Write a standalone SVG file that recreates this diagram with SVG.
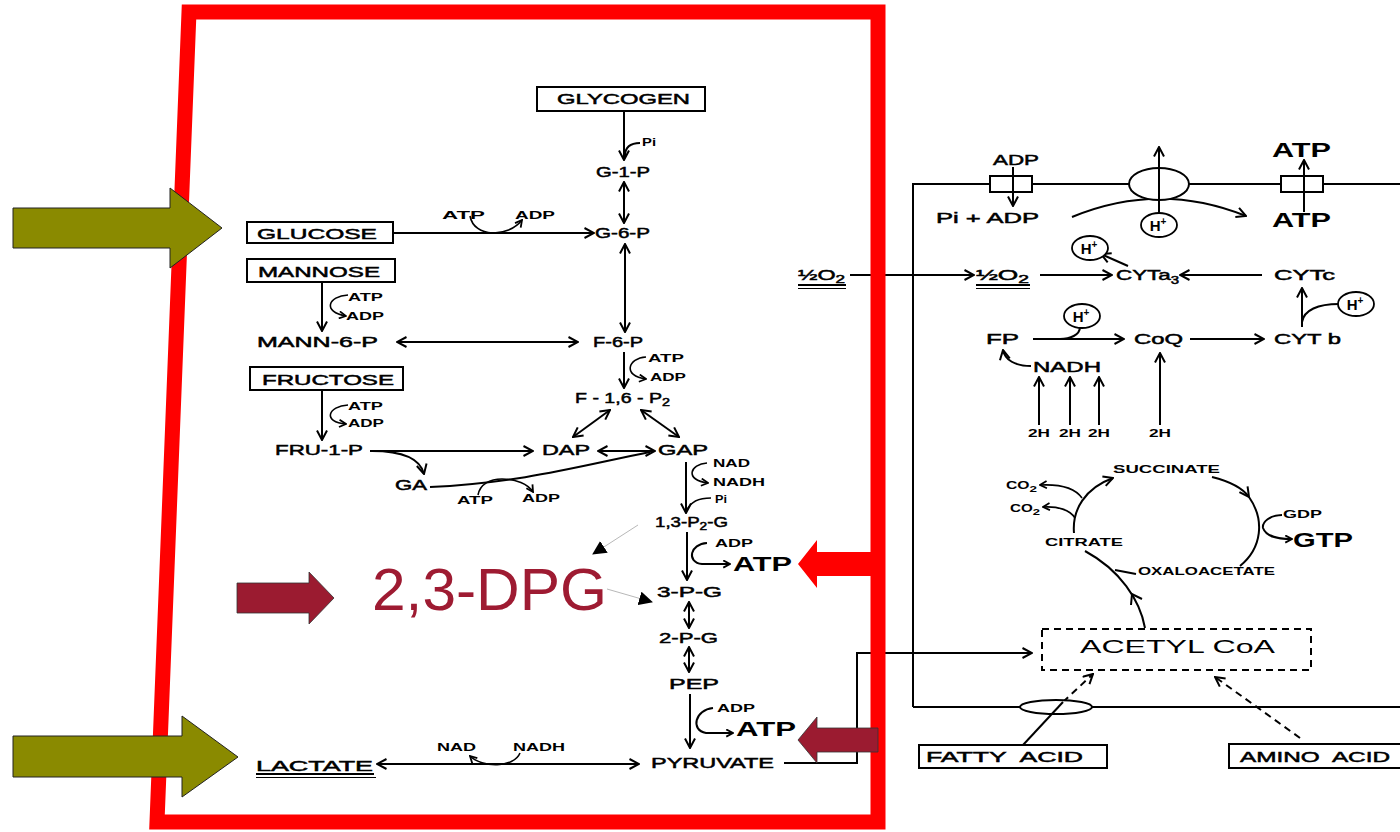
<svg xmlns="http://www.w3.org/2000/svg" width="1400" height="832" viewBox="0 0 1400 832">
<defs>
<style>
text{font-family:"Liberation Sans",Arial,sans-serif;fill:#000}
.m{font-size:15px;stroke:#000;stroke-width:0.5}
.s{font-size:10.5px;font-weight:bold}
.b{font-size:20px;font-weight:bold}
.ln{stroke:#000;stroke-width:2;fill:none}
.thin{stroke:#000;stroke-width:1.6;fill:none}
.bx{fill:#fff;stroke:#000;stroke-width:2}
.h{fill:#fff;stroke:#000;stroke-width:1.8}
.gr{stroke:#b8b8b8;stroke-width:1;fill:none}
.dash{stroke:#000;stroke-width:2;fill:none;stroke-dasharray:7,5}
.olive{fill:#8a8a00;stroke:#222;stroke-width:1}
.dred{fill:#9b1b30;stroke:#333;stroke-width:0.8}
</style>
<marker id="a" viewBox="0 0 12 12" refX="11" refY="6" markerWidth="12" markerHeight="12" markerUnits="userSpaceOnUse" orient="auto-start-reverse"><path d="M1.5,1 L11,6 L1.5,11" fill="none" stroke="#000" stroke-width="2"/></marker>
<marker id="sm" viewBox="0 0 10 10" refX="9" refY="5" markerWidth="9" markerHeight="9" markerUnits="userSpaceOnUse" orient="auto"><path d="M1.5,1 L9,5 L1.5,9" fill="none" stroke="#000" stroke-width="2"/></marker>
<marker id="tri" viewBox="0 0 14 14" refX="13" refY="7" markerWidth="14" markerHeight="14" markerUnits="userSpaceOnUse" orient="auto"><path d="M0,0 L14,7 L0,14 z" fill="#000"/></marker>
</defs>
<rect width="1400" height="832" fill="#fff"/>

<g id="connectors">
<line x1="624" y1="111" x2="624" y2="160" class="ln" marker-end="url(#a)"/>
<path d="M640,143 C630,143 625,148 625,156" class="ln"/>
<line x1="624" y1="182" x2="624" y2="223" class="ln" marker-start="url(#a)" marker-end="url(#a)"/>
<line x1="393" y1="233" x2="594" y2="233" class="ln" marker-end="url(#a)"/>
<path d="M470,216 C474,238 508,238 522,220" class="thin" marker-end="url(#sm)"/>
<line x1="625" y1="244" x2="625" y2="332" class="ln" marker-start="url(#a)" marker-end="url(#a)"/>
<line x1="322" y1="282" x2="322" y2="331" class="ln" marker-end="url(#a)"/>
<path d="M348,295 C328,296 322,312 346,316" class="thin" marker-end="url(#sm)"/>
<line x1="397" y1="342" x2="578" y2="342" class="ln" marker-start="url(#a)" marker-end="url(#a)"/>
<line x1="624" y1="352" x2="624" y2="388" class="ln" marker-end="url(#a)"/>
<path d="M646,357 C628,358 622,376 646,379" class="thin" marker-end="url(#sm)"/>
<line x1="322" y1="390" x2="322" y2="440" class="ln" marker-end="url(#a)"/>
<path d="M348,405 C328,406 322,422 346,424" class="thin" marker-end="url(#sm)"/>
<line x1="610" y1="410" x2="573" y2="437" class="ln" marker-start="url(#a)" marker-end="url(#a)"/>
<line x1="641" y1="410" x2="679" y2="437" class="ln" marker-start="url(#a)" marker-end="url(#a)"/>
<line x1="370" y1="451" x2="533" y2="451" class="ln" marker-end="url(#a)"/>
<path d="M372,451 C400,451 420,458 424,474" class="ln" marker-end="url(#a)"/>
<line x1="598" y1="451" x2="655" y2="451" class="ln" marker-start="url(#a)" marker-end="url(#a)"/>
<path d="M430,487 C520,483 580,466 650,452" class="ln"/>
<path d="M478,495 C480,484 490,479 502,479 C516,479 528,484 533,492" class="thin" marker-end="url(#sm)"/>
<line x1="686" y1="462" x2="686" y2="513" class="ln" marker-end="url(#a)"/>
<path d="M707,463 C690,464 684,480 708,483" class="thin" marker-end="url(#sm)"/>
<path d="M711,498 C698,498 690,503 687,510" class="thin"/>
<line x1="687" y1="532" x2="687" y2="580" class="ln" marker-end="url(#a)"/>
<path d="M707,543 C690,544 686,562 702,564 L730,564" class="ln" marker-end="url(#sm)"/>
<line x1="689" y1="602" x2="689" y2="628" class="ln" marker-start="url(#a)" marker-end="url(#a)"/>
<line x1="689" y1="647" x2="689" y2="672" class="ln" marker-start="url(#a)" marker-end="url(#a)"/>
<line x1="690" y1="694" x2="690" y2="748" class="ln" marker-end="url(#a)"/>
<path d="M713,708 C695,710 690,730 706,733 L733,733" class="ln" marker-end="url(#sm)"/>
<line x1="377" y1="764" x2="639" y2="764" class="ln" marker-start="url(#a)" marker-end="url(#a)"/>
<path d="M520,753 C514,768 482,768 470,756" class="thin" marker-end="url(#sm)"/>
<polyline points="784,763 857,763 857,653 1032,653" class="ln" marker-end="url(#a)"/>
<line x1="638" y1="525" x2="593" y2="554" class="gr" marker-end="url(#tri)"/>
<line x1="607" y1="589" x2="652" y2="602" class="gr" marker-end="url(#tri)"/>

<polyline points="913,707 913,184 1400,184" class="ln"/>
<line x1="913" y1="707" x2="1400" y2="707" class="ln"/>
<path d="M1072,217 Q1159,181 1246,216" class="ln" marker-end="url(#a)"/>
<line x1="850" y1="275" x2="974" y2="275" class="ln" marker-end="url(#a)"/>
<line x1="1040" y1="275" x2="1112" y2="275" class="ln" marker-end="url(#a)"/>
<line x1="1262" y1="275" x2="1180" y2="275" class="ln" marker-end="url(#a)"/>
<line x1="1128" y1="266" x2="1101" y2="254" class="ln" marker-end="url(#a)"/>
<line x1="1302" y1="327" x2="1302" y2="288" class="ln" marker-end="url(#a)"/>
<path d="M1339,304 C1318,304 1304,310 1302,322" class="ln"/>
<line x1="1033" y1="339" x2="1124" y2="339" class="ln" marker-end="url(#a)"/>
<path d="M1080,327 C1080,335 1070,339 1060,339" class="ln"/>
<line x1="1190" y1="339" x2="1264" y2="339" class="ln" marker-end="url(#a)"/>
<path d="M1031,366 C1015,366 1005,360 1003,350" class="ln" marker-end="url(#a)"/>
<line x1="1039" y1="425" x2="1039" y2="377" class="ln" marker-end="url(#a)"/>
<line x1="1070" y1="425" x2="1070" y2="377" class="ln" marker-end="url(#a)"/>
<line x1="1099" y1="425" x2="1099" y2="377" class="ln" marker-end="url(#a)"/>
<line x1="1160" y1="425" x2="1160" y2="353" class="ln" marker-end="url(#a)"/>

<path d="M1074,533 C1072,510 1085,488 1113,478" class="ln" marker-end="url(#a)"/>
<path d="M1082,498 C1075,488 1060,484 1040,485" class="thin" marker-end="url(#sm)"/>
<path d="M1075,518 C1070,510 1058,506 1043,507" class="thin" marker-end="url(#sm)"/>
<path d="M1212,477 C1232,482 1244,490 1249,497" class="ln" marker-end="url(#a)"/>
<path d="M1249,497 C1265,520 1262,548 1240,566" class="ln"/>
<path d="M1282,515 C1270,515 1262,522 1263,528 C1266,536 1275,539 1292,539" class="ln" marker-end="url(#sm)"/>
<line x1="1136" y1="574" x2="1115" y2="570" class="ln"/>
<path d="M1145,628 C1140,600 1120,570 1085,551" class="ln"/>
<path d="M1142,599 L1132,594 L1131,605" class="ln"/>
<line x1="1063" y1="702" x2="1093" y2="674" class="dash" marker-end="url(#a)"/>
<line x1="1300" y1="738" x2="1215" y2="677" class="dash" marker-end="url(#a)"/>
</g>

<g id="glycogen"><rect x="537" y="87" width="168" height="24" class="bx"/><text class="m" x="557" y="104" textLength="133" lengthAdjust="spacingAndGlyphs">GLYCOGEN</text></g>
<g id="pi1"><text class="s" x="642" y="146" textLength="14" lengthAdjust="spacingAndGlyphs">Pi</text></g>
<g id="g1p"><text class="m" x="596" y="177" textLength="54" lengthAdjust="spacingAndGlyphs">G-1-P</text></g>
<g id="g6p"><text class="m" x="595" y="238" textLength="55" lengthAdjust="spacingAndGlyphs">G-6-P</text></g>
<g id="glucose"><rect x="247" y="222" width="146" height="21" class="bx"/><text class="m" x="257" y="239" textLength="120" lengthAdjust="spacingAndGlyphs">GLUCOSE</text></g>
<g id="atp-adp-1"><text class="s" x="442" y="219" textLength="43" lengthAdjust="spacingAndGlyphs">ATP</text><text class="s" x="515" y="219" textLength="40" lengthAdjust="spacingAndGlyphs">ADP</text></g>
<g id="mannose"><rect x="247" y="259" width="148" height="23" class="bx"/><text class="m" x="258" y="277" textLength="122" lengthAdjust="spacingAndGlyphs">MANNOSE</text></g>
<g id="atp-adp-2"><text class="s" x="348" y="301" textLength="35" lengthAdjust="spacingAndGlyphs">ATP</text><text class="s" x="346" y="320" textLength="38" lengthAdjust="spacingAndGlyphs">ADP</text></g>
<g id="mann6p"><text class="m" x="257" y="347" textLength="121" lengthAdjust="spacingAndGlyphs">MANN-6-P</text></g>
<g id="f6p"><text class="m" x="593" y="347" textLength="50" lengthAdjust="spacingAndGlyphs">F-6-P</text></g>
<g id="atp-adp-3"><text class="s" x="648" y="362" textLength="36" lengthAdjust="spacingAndGlyphs">ATP</text><text class="s" x="650" y="381" textLength="36" lengthAdjust="spacingAndGlyphs">ADP</text></g>
<g id="f16p2"><text class="m" x="575" y="403" textLength="95" lengthAdjust="spacingAndGlyphs">F - 1,6 - P<tspan dy="3" font-size="11">2</tspan></text></g>
<g id="fructose"><rect x="250" y="367" width="153" height="23" class="bx"/><text class="m" x="262" y="385" textLength="132" lengthAdjust="spacingAndGlyphs">FRUCTOSE</text></g>
<g id="atp-adp-4"><text class="s" x="348" y="410" textLength="35" lengthAdjust="spacingAndGlyphs">ATP</text><text class="s" x="348" y="427" textLength="36" lengthAdjust="spacingAndGlyphs">ADP</text></g>
<g id="fru1p"><text class="m" x="275" y="455" textLength="88" lengthAdjust="spacingAndGlyphs">FRU-1-P</text></g>
<g id="dap"><text class="m" x="542" y="455" textLength="48" lengthAdjust="spacingAndGlyphs">DAP</text></g>
<g id="gap"><text class="m" x="658" y="455" textLength="50" lengthAdjust="spacingAndGlyphs">GAP</text></g>
<g id="ga"><text class="m" x="395" y="490" textLength="32" lengthAdjust="spacingAndGlyphs">GA</text></g>
<g id="atp-adp-5"><text class="s" x="457" y="504" textLength="36" lengthAdjust="spacingAndGlyphs">ATP</text><text class="s" x="522" y="502" textLength="38" lengthAdjust="spacingAndGlyphs">ADP</text></g>
<g id="nad-nadh-pi"><text class="s" x="713" y="467" textLength="37" lengthAdjust="spacingAndGlyphs">NAD</text><text class="s" x="713" y="486" textLength="52" lengthAdjust="spacingAndGlyphs">NADH</text><text class="s" x="715" y="503" textLength="12" lengthAdjust="spacingAndGlyphs">Pi</text></g>
<g id="p13g"><text class="m" x="655" y="527" textLength="73" lengthAdjust="spacingAndGlyphs">1,3-P<tspan dy="3" font-size="11">2</tspan><tspan dy="-3">-G</tspan></text></g>
<g id="adp-atp-1"><text class="s" x="715" y="547" textLength="38" lengthAdjust="spacingAndGlyphs">ADP</text><text class="b" x="733" y="571" textLength="59" lengthAdjust="spacingAndGlyphs">ATP</text></g>
<g id="p3g"><text class="m" x="657" y="597" textLength="65" lengthAdjust="spacingAndGlyphs">3-P-G</text></g>
<g id="p2g"><text class="m" x="659" y="643" textLength="59" lengthAdjust="spacingAndGlyphs">2-P-G</text></g>
<g id="pep"><text class="m" x="669" y="689" textLength="50" lengthAdjust="spacingAndGlyphs">PEP</text></g>
<g id="adp-atp-2"><text class="s" x="717" y="712" textLength="38" lengthAdjust="spacingAndGlyphs">ADP</text><text class="b" x="736" y="736" textLength="60" lengthAdjust="spacingAndGlyphs">ATP</text></g>
<g id="pyruvate"><text class="m" x="651" y="768" textLength="123" lengthAdjust="spacingAndGlyphs">PYRUVATE</text></g>
<g id="lactate"><text class="m" x="256" y="771" textLength="117" lengthAdjust="spacingAndGlyphs">LACTATE</text><line x1="256" y1="774" x2="374" y2="774" stroke="#000" stroke-width="2"/><line x1="256" y1="777.5" x2="376" y2="777.5" stroke="#000" stroke-width="1"/></g>
<g id="nad-nadh"><text class="s" x="437" y="751" textLength="39" lengthAdjust="spacingAndGlyphs">NAD</text><text class="s" x="513" y="751" textLength="52" lengthAdjust="spacingAndGlyphs">NADH</text></g>

<g id="membrane-parts">
<rect x="990" y="176" width="42" height="16" class="bx"/>
<ellipse cx="1159" cy="184" rx="30" ry="16" class="bx"/>
<rect x="1281" y="176" width="42" height="16" class="bx"/>
<ellipse cx="1056" cy="707" rx="36" ry="7" class="bx"/>
<line x1="1013" y1="167" x2="1013" y2="206" class="ln" marker-end="url(#a)"/>
<line x1="1159" y1="214" x2="1159" y2="147" class="ln" marker-end="url(#a)"/>
<line x1="1304" y1="212" x2="1304" y2="160" class="ln" marker-end="url(#a)"/>
<line x1="1023" y1="745" x2="1063" y2="702" class="ln"/>
</g>
<g id="adp-r"><text class="m" x="993" y="165" textLength="46" lengthAdjust="spacingAndGlyphs">ADP</text></g>
<g id="pi-adp"><text class="m" x="936" y="223" textLength="103" lengthAdjust="spacingAndGlyphs">Pi + ADP</text></g>
<g id="atp-top"><text class="b" x="1272" y="157" textLength="59" lengthAdjust="spacingAndGlyphs">ATP</text></g>
<g id="atp-bot"><text class="b" x="1272" y="227" textLength="59" lengthAdjust="spacingAndGlyphs">ATP</text></g>
<g id="hplus1"><ellipse cx="1159" cy="225" rx="18" ry="12" class="h"/><text x="1158" y="231" text-anchor="middle" font-size="15" font-weight="bold">H<tspan dy="-6" font-size="10">+</tspan></text></g>
<g id="hplus2"><ellipse cx="1090" cy="248" rx="18" ry="12" class="h"/><text x="1089" y="254" text-anchor="middle" font-size="15" font-weight="bold">H<tspan dy="-6" font-size="10">+</tspan></text></g>
<g id="hplus3"><ellipse cx="1082" cy="316" rx="18" ry="12" class="h"/><text x="1081" y="322" text-anchor="middle" font-size="15" font-weight="bold">H<tspan dy="-6" font-size="10">+</tspan></text></g>
<g id="hplus4"><ellipse cx="1356" cy="304" rx="18" ry="12" class="h"/><text x="1355" y="310" text-anchor="middle" font-size="15" font-weight="bold">H<tspan dy="-6" font-size="10">+</tspan></text></g>
<g id="o2-left"><text class="m" x="798" y="280" textLength="47" lengthAdjust="spacingAndGlyphs">½O<tspan dy="3" font-size="11">2</tspan></text><line x1="798" y1="285" x2="846" y2="285" stroke="#000" stroke-width="2"/><line x1="798" y1="288.5" x2="846" y2="288.5" stroke="#000" stroke-width="1"/></g>
<g id="o2-right"><text class="m" x="976" y="280" textLength="53" lengthAdjust="spacingAndGlyphs">½O<tspan dy="3" font-size="11">2</tspan></text><line x1="976" y1="285" x2="1030" y2="285" stroke="#000" stroke-width="2"/><line x1="976" y1="288.5" x2="1030" y2="288.5" stroke="#000" stroke-width="1"/></g>
<g id="cyta3"><text class="m" x="1116" y="280" textLength="63" lengthAdjust="spacingAndGlyphs">CYTa<tspan dy="4" font-size="10">3</tspan></text></g>
<g id="cytc"><text class="m" x="1274" y="280" textLength="61" lengthAdjust="spacingAndGlyphs">CYTc</text></g>
<g id="fp"><text class="m" x="986" y="344" textLength="33" lengthAdjust="spacingAndGlyphs">FP</text></g>
<g id="coq"><text class="m" x="1134" y="344" textLength="49" lengthAdjust="spacingAndGlyphs">CoQ</text></g>
<g id="cytb"><text class="m" x="1274" y="344" textLength="67" lengthAdjust="spacingAndGlyphs">CYT b</text></g>
<g id="nadh-r"><text class="m" x="1033" y="372" textLength="68" lengthAdjust="spacingAndGlyphs">NADH</text></g>
<g id="h2"><text class="s" x="1028" y="437" textLength="22" lengthAdjust="spacingAndGlyphs">2H</text><text class="s" x="1059" y="437" textLength="22" lengthAdjust="spacingAndGlyphs">2H</text><text class="s" x="1088" y="437" textLength="22" lengthAdjust="spacingAndGlyphs">2H</text><text class="s" x="1149" y="437" textLength="22" lengthAdjust="spacingAndGlyphs">2H</text></g>
<g id="succinate"><text class="s" x="1113" y="473" textLength="107" lengthAdjust="spacingAndGlyphs">SUCCINATE</text></g>
<g id="co2"><text class="s" x="1006" y="489" textLength="31" lengthAdjust="spacingAndGlyphs">CO<tspan dy="3" font-size="9">2</tspan></text><text class="s" x="1010" y="512" textLength="30" lengthAdjust="spacingAndGlyphs">CO<tspan dy="3" font-size="9">2</tspan></text></g>
<g id="citrate"><text class="s" x="1045" y="546" textLength="78" lengthAdjust="spacingAndGlyphs">CITRATE</text></g>
<g id="gdp-gtp"><text class="s" x="1283" y="518" textLength="39" lengthAdjust="spacingAndGlyphs">GDP</text><text class="b" x="1293" y="547" textLength="60" lengthAdjust="spacingAndGlyphs">GTP</text></g>
<g id="oxaloacetate"><text class="s" x="1138" y="575" textLength="137" lengthAdjust="spacingAndGlyphs">OXALOACETATE</text></g>
<g id="acetylcoa"><rect x="1042" y="629" width="269" height="41" fill="#fff" class="dash"/><text x="1080" y="653" font-size="18" textLength="195" lengthAdjust="spacingAndGlyphs">ACETYL CoA</text></g>
<g id="fattyacid"><rect x="919" y="745" width="188" height="23" class="bx"/><text class="m" x="926" y="762" textLength="157" lengthAdjust="spacingAndGlyphs" xml:space="preserve">FATTY  ACID</text></g>
<g id="aminoacid"><rect x="1229" y="744" width="180" height="24" class="bx"/><text class="m" x="1240" y="762" textLength="150" lengthAdjust="spacingAndGlyphs" xml:space="preserve">AMINO  ACID</text></g>

<g id="frame"><polygon points="189,12 878,12 878,822 157,822" fill="none" stroke="#ff0000" stroke-width="15"/></g>
<g id="arrow-glucose"><polygon points="13,208 170,208 170,188 222,228 170,268 170,248 13,248" class="olive"/></g>
<g id="arrow-lactate"><polygon points="13,736 182,736 182,716 238,757 182,797 182,777 13,777" class="olive"/></g>
<g id="arrow-dpg"><polygon points="237,583 309,583 309,572 334,598 309,624 309,613 237,613" class="dred"/></g>
<g id="dpg"><text x="372" y="610" font-size="60" textLength="235" lengthAdjust="spacingAndGlyphs" style="fill:#9e1b32">2,3-DPG</text></g>
<g id="arrow-atp1"><polygon points="798,564 817,540 817,552 878,552 878,576 817,576 817,588" fill="#ff0000"/></g>
<g id="arrow-atp2"><polygon points="798,740 817,717 817,728 878,728 878,752 817,752 817,763" class="dred"/></g>
</svg>
